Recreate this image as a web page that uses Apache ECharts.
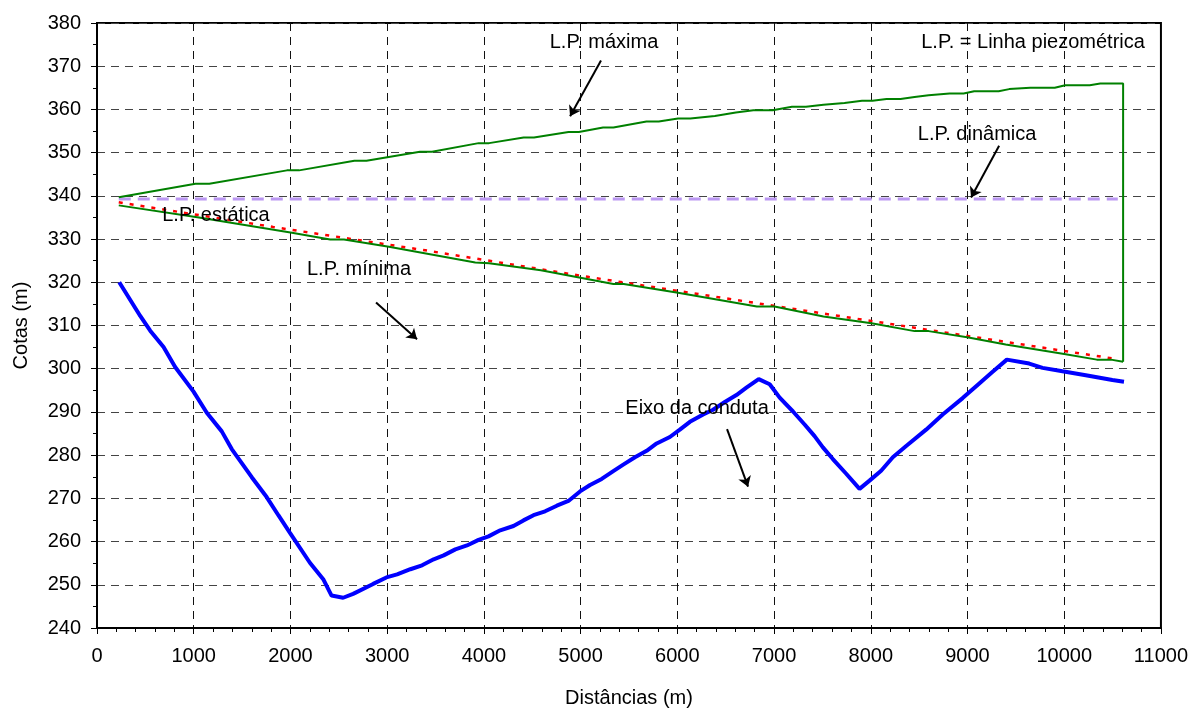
<!DOCTYPE html>
<html>
<head>
<meta charset="utf-8">
<script src="https://cdn.jsdelivr.net/npm/echarts@6/dist/echarts.min.js"></script>
<style>
  html, body { margin: 0; padding: 0; background: #fff; }
  #chart { width: 1191px; height: 713px; }
</style>
</head>
<body>
<div id="chart"></div>
<script>
// perfil da conduta: [distância (m), cota (m)]
var eixoConduta = [
  [230,320],[447,312.2],[550,308.8],[688,305],[808,300.4],[998,294.7],[1135,289.8],[1290,285.5],
  [1393,281.4],[1600,274.9],[1754,270.3],[1875,266.1],[1995,262],[2201,255.1],[2339,251.3],
  [2425,247.5],[2545,247],[2648,247.9],[2855,250.2],[2992,251.7],[3103,252.4],[3240,253.6],
  [3361,254.5],[3481,255.9],[3584,256.8],[3705,258.2],[3825,259.1],[3945,260.4],[4048,261.2],
  [4169,262.6],[4306,263.6],[4409,264.9],[4513,266.1],[4633,267],[4754,268.3],[4874,269.4],
  [4994,271.6],[5098,273.1],[5218,274.5],[5338,276.3],[5441,277.8],[5562,279.5],[5683,281],
  [5786,282.7],[5923,284.2],[6026,285.9],[6130,287.7],[6267,289.4],[6370,290.5],[6491,292.3],
  [6611,293.9],[6714,295.6],[6841,297.6],[6955,296.4],[7058,293.3],[7196,290.1],[7316,287.1],
  [7419,284.4],[7505,281.8],[7608,279.1],[7746,275.7],[7884,272.2],[7987,274.1],[8107,276.4],
  [8228,279.5],[8366,282.1],[8572,285.9],[8744,289.4],[8950,293.2],[9122,296.6],[9260,299.3],
  [9407,302.1],[9638,301.2],[9776,300.2],[9982,299.4],[10223,298.5],[10498,297.4],[10618,297]
];

var lpMaxima = [
  [225,339.7],[1018,342.8],[1161,342.8],[1964,345.9],[2089,345.9],[2661,348.1],[2786,348.1],
  [3339,350.2],[3464,350.2],[3946,352.2],[4054,352.2],[4411,353.5],[4518,353.5],[4875,354.8],
  [4982,354.8],[5232,355.8],[5339,355.8],[5681,357.2],[5808,357.2],[6007,357.9],[6134,357.9],
  [6388,358.5],[6605,359.3],[6786,359.8],[6986,359.8],[7185,360.6],[7330,360.6],[7511,361.1],
  [7728,361.5],[7909,362],[8018,362],[8163,362.4],[8308,362.4],[8453,362.9],[8598,363.3],
  [8815,363.7],[8960,363.7],[9069,364.2],[9322,364.2],[9431,364.7],[9649,365],[9902,365],
  [10011,365.6],[10264,365.6],[10373,366],[10609,366],[10609,301.6]
];

var lpMinima = [
  [225,337.8],[1054,335],[2000,331.5],[2411,329.9],[2554,329.9],[3018,328.2],[3911,324.6],
  [4054,324.4],[4589,322.8],[5339,319.6],[5446,319.6],[6007,317.6],[6822,314.4],[7004,314.4],
  [7511,312.1],[8007,310.5],[8453,308.7],[8598,308.7],[8996,307.3],[9395,305.6],[10000,303.4],
  [10337,302.1],[10482,302.1],[10609,301.6]
];

var lpEstatica = [
  [225,338.5],[1821,332.8],[3393,327.4],[5089,321.2],[8018,311],[10000,304.1],[10554,302.2]
];

var lpDinamica = [[225,339.3],[10554,339.3]];

// anotações (texto e setas), em coordenadas do gráfico
var notas = [
  [5242, 375.4, 'L.P. máxima'],
  [1230, 335.5, 'L.P. estática'],
  [2709, 322.9, 'L.P. mínima'],
  [9099, 354.1, 'L.P. dinâmica'],
  [9678, 375.4, 'L.P. = Linha piezométrica'],
  [6204, 290.8, 'Eixo da conduta']
];
var setas = [
  [[5211, 371.3], [4891, 358.4]],
  [[2885, 315.3], [3309, 306.8]],
  [[9327, 351.6], [9037, 339.6]],
  [[6514, 286], [6731, 272.7]]
];

var fonte = "'Liberation Sans', Arial, sans-serif";

var chart = echarts.init(document.getElementById('chart'));
chart.setOption({
  animation: false,
  backgroundColor: '#fff',
  grid: {
    left: 97, right: 30, top: 23, bottom: 79,
    show: true, borderColor: '#000', borderWidth: 2
  },
  xAxis: {
    type: 'value',
    min: 0, max: 11000, interval: 1000,
    name: 'Distâncias (m)',
    nameLocation: 'middle',
    nameGap: 60,
    nameTextStyle: { color: '#000', fontSize: 20, fontFamily: fonte },
    axisLine: { show: true, onZero: false, lineStyle: { color: '#000', width: 2 } },
    axisTick: { show: true, length: 6, lineStyle: { color: '#000' } },
    minorTick: { show: true, splitNumber: 5, length: 4, lineStyle: { color: '#000' } },
    axisLabel: {
      color: '#000', fontSize: 20, fontFamily: fonte, margin: 18,
      formatter: function (v) { return String(v); }
    },
    splitLine: { show: true, lineStyle: { color: '#111', type: [8, 6], width: 1 } }
  },
  yAxis: {
    type: 'value',
    min: 240, max: 380, interval: 10,
    name: 'Cotas (m)',
    nameLocation: 'middle',
    nameGap: 66,
    nameTextStyle: { color: '#000', fontSize: 20, fontFamily: fonte },
    axisLine: { show: true, onZero: false, lineStyle: { color: '#000', width: 2 } },
    axisTick: { show: true, length: 6, lineStyle: { color: '#000' } },
    minorTick: { show: true, splitNumber: 2, length: 4, lineStyle: { color: '#000' } },
    axisLabel: { color: '#000', fontSize: 20, fontFamily: fonte, margin: 16 },
    splitLine: { show: true, lineStyle: { color: '#444', type: [8, 6], width: 1 } }
  },
  series: [
    {
      name: 'L.P. dinâmica', type: 'line', data: lpDinamica, showSymbol: false,
      lineStyle: { color: '#bb98f2', width: 3, type: [12, 7] }, z: 2
    },
    {
      name: 'L.P. estática', type: 'line', data: lpEstatica, showSymbol: false,
      lineStyle: { color: '#ff0000', width: 2.5, type: [4, 7] }, z: 3
    },
    {
      name: 'L.P. máxima', type: 'line', data: lpMaxima, showSymbol: false,
      lineStyle: { color: '#008000', width: 2 }, z: 4
    },
    {
      name: 'L.P. mínima', type: 'line', data: lpMinima, showSymbol: false,
      lineStyle: { color: '#008000', width: 2 }, z: 4
    },
    {
      name: 'Eixo da conduta', type: 'line', data: eixoConduta, showSymbol: false,
      lineStyle: { color: '#0000ff', width: 4 }, z: 5
    },
    {
      type: 'scatter', data: notas, symbolSize: 0, silent: true, z: 10,
      itemStyle: { opacity: 1, color: '#000' },
      label: {
        show: true, position: 'inside', color: '#000', opacity: 1,
        fontSize: 20, fontFamily: fonte,
        formatter: function (p) { return p.value[2]; }
      }
    },
    {
      type: 'lines', coordinateSystem: 'cartesian2d', silent: true, z: 10,
      symbol: ['none', 'arrow'], symbolSize: 10,
      lineStyle: { color: '#000', width: 2, opacity: 1 },
      data: setas.map(function (s) { return { coords: s }; })
    }
  ]
});
</script>
</body>
</html>
